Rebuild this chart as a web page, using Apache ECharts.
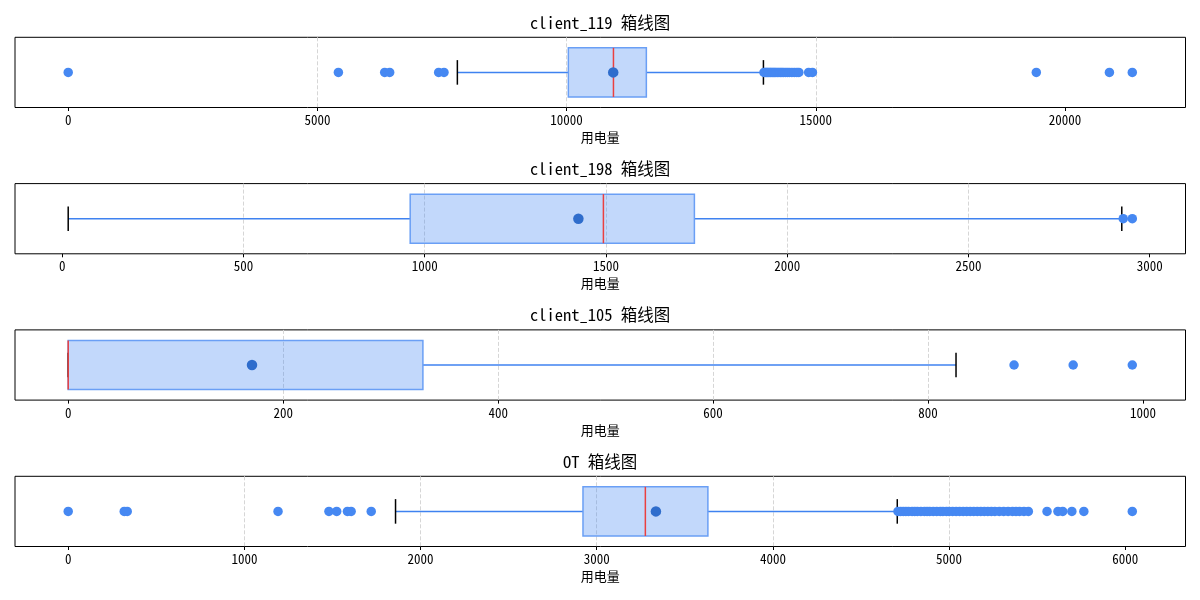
<!DOCTYPE html>
<html><head><meta charset="utf-8">
<script src="https://cdn.jsdelivr.net/npm/echarts@6/dist/echarts.min.js"></script>
<style>html,body{margin:0;padding:0;background:#fff}#c{width:1200px;height:600px}</style>
</head><body><div id="c"></div><script>
const titles = ['client_119 箱线图', 'client_198 箱线图', 'client_105 箱线图', 'OT 箱线图'];
const xName = '用电量';

// box stats: [whiskerLow, Q1, median, Q3, whiskerHigh]
const box119 = [7808, 10035, 10940, 11600, 13949];
const mean119 = 10935;
const out119 = [0, 5421, 6350, 6450, 7433, 7540,
  13960, 13985, 14010, 14030, 14055, 14080, 14100, 14125, 14150, 14175, 14200, 14230,
  14260, 14290, 14320, 14350, 14390, 14430, 14470, 14520, 14570, 14620, 14660,
  14856, 14932, 19424, 20891, 21350];
const ticks119 = [0, 5000, 10000, 15000, 20000];

const box198 = [16.6, 960, 1493, 1744, 2923];
const mean198 = 1424;
const out198 = [2927, 2952];
const ticks198 = [0, 500, 1000, 1500, 2000, 2500, 3000];

const box105 = [0, 0, 0, 330, 826];
const mean105 = 171;
const out105 = [880, 935, 990];
const ticks105 = [0, 200, 400, 600, 800, 1000];

const boxOT = [1858, 2922, 3276, 3631, 4706];
const meanOT = 3336;
const outOT = [0, 318, 335, 1191, 1480, 1524, 1585, 1606, 1720,
  4710, 4725, 4740, 4755, 4770, 4790, 4805, 4820, 4840, 4860, 4875, 4890, 4910, 4930,
  4950, 4965, 4985, 5000, 5020, 5040, 5060, 5080, 5100, 5120, 5140, 5160, 5180, 5200,
  5220, 5240, 5260, 5285, 5310, 5335, 5360, 5380, 5400, 5425, 5450,
  5556, 5618, 5645, 5697, 5765, 6040];
const ticksOT = [0, 1000, 2000, 3000, 4000, 5000, 6000];

const panels = [
  {box: box119, mean: mean119, out: out119, ticks: ticks119},
  {box: box198, mean: mean198, out: out198, ticks: ticks198},
  {box: box105, mean: mean105, out: out105, ticks: ticks105},
  {box: boxOT, mean: meanOT, out: outOT, ticks: ticksOT}
];

const FONT = '"Noto Sans Mono CJK SC", "Noto Sans CJK SC", "DejaVu Sans Mono", monospace';
const tops = [37.3, 183.6, 329.9, 476.3];
const H = 70.2;
const HALF = 0.35, CAP = 0.175;

function renderBox(params, api) {
  const lo = api.value(0), q1 = api.value(1), md = api.value(2), q3 = api.value(3), hi = api.value(4);
  const y = api.value(5);
  const pLo = api.coord([lo, y]), pQ1 = api.coord([q1, y]), pMd = api.coord([md, y]);
  const pQ3 = api.coord([q3, y]), pHi = api.coord([hi, y]);
  const yc = pLo[1];
  const bt = api.coord([q1, y + HALF])[1], bb = api.coord([q1, y - HALF])[1];
  const ct = api.coord([q1, y + CAP])[1], cb = api.coord([q1, y - CAP])[1];
  const wl = {stroke: '#3f82f0', lineWidth: 1.5};
  const cl = {stroke: '#000', lineWidth: 1.5};
  return {type: 'group', children: [
    {type: 'line', shape: {x1: pLo[0], y1: yc, x2: pQ1[0], y2: yc}, style: wl},
    {type: 'line', shape: {x1: pQ3[0], y1: yc, x2: pHi[0], y2: yc}, style: wl},
    {type: 'rect', shape: {x: pQ1[0], y: bt, width: pQ3[0] - pQ1[0], height: bb - bt},
      style: {fill: 'rgba(66,133,244,0.32)', stroke: '#6a9ff5', lineWidth: 1.5}},
    {type: 'line', shape: {x1: pLo[0], y1: ct, x2: pLo[0], y2: cb}, style: cl},
    {type: 'line', shape: {x1: pHi[0], y1: ct, x2: pHi[0], y2: cb}, style: cl},
    {type: 'line', shape: {x1: pMd[0], y1: bt, x2: pMd[0], y2: bb}, style: {stroke: '#ea4040', lineWidth: 1.5}}
  ]};
}

const grid = [], xAxis = [], yAxis = [], series = [], title = [];
panels.forEach((p, i) => {
  const all = p.box.concat(p.out, [p.mean]);
  const dmin = Math.min(...all), dmax = Math.max(...all);
  const m = (dmax - dmin) * 0.05;
  grid.push({left: 15, right: 14.5, top: tops[i], height: H, show: true,
    borderColor: '#000', borderWidth: 1, backgroundColor: 'transparent'});
  title.push({text: titles[i], left: 'center', top: tops[i] - 15 - 9, padding: 0,
    textStyle: {fontFamily: FONT, fontSize: 16.5, fontWeight: 'normal', color: '#000', lineHeight: 18}});
  xAxis.push({type: 'value', gridIndex: i, min: dmin - m, max: dmax + m,
    name: xName, nameLocation: 'middle', nameGap: 23,
    nameTextStyle: {fontFamily: FONT, fontSize: 13, color: '#000'},
    axisLine: {show: false},
    axisTick: {show: true, customValues: p.ticks, length: 3.5, lineStyle: {color: '#000', width: 1}},
    axisLabel: {customValues: p.ticks, fontFamily: FONT, fontSize: 13, color: '#000', margin: 6,
      formatter: v => String(v)},
    splitLine: {show: true, showMinLine: false, showMaxLine: false,
      lineStyle: {color: '#d6d6d6', type: [4, 2], width: 1}}
  });
  yAxis.push({type: 'value', gridIndex: i, min: 0.5, max: 1.5, show: false});
  series.push({type: 'custom', xAxisIndex: i, yAxisIndex: i, renderItem: renderBox,
    encode: {x: [0, 1, 2, 3, 4], y: 5}, data: [p.box.concat([1])], z: 2, silent: true});
  series.push({type: 'scatter', xAxisIndex: i, yAxisIndex: i, symbolSize: 9.5,
    itemStyle: {color: '#4688f2', opacity: 1}, data: p.out.map(v => [v, 1]), z: 3, silent: true});
  series.push({type: 'scatter', xAxisIndex: i, yAxisIndex: i, symbolSize: 10.5,
    itemStyle: {color: '#2f6dcc', opacity: 1}, data: [[p.mean, 1]], z: 4, silent: true});
});

const chart = echarts.init(document.getElementById('c'), null, {renderer: 'canvas'});
chart.setOption({animation: false, backgroundColor: '#fff', title, grid, xAxis, yAxis, series});
</script></body></html>
